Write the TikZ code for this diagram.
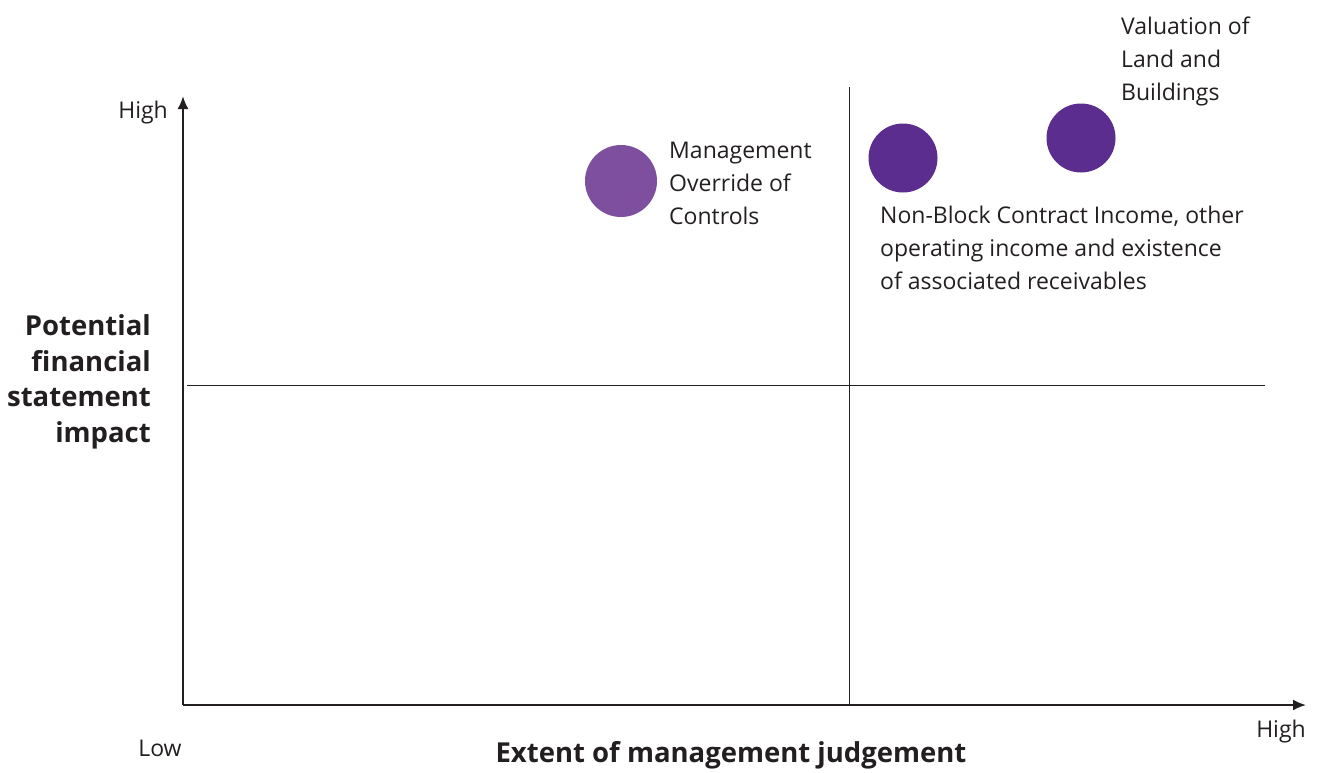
\documentclass[tikz,border=0pt]{standalone}
\usepackage{fontspec}
\setmainfont{Open Sans}
\usetikzlibrary{arrows.meta}

\definecolor{riskdark}{HTML}{5B2D8E}
\definecolor{risklight}{HTML}{7D4F9E}
\definecolor{inkgrey}{HTML}{231F20}

\tikzset{
    axis/.style={line width=2pt, draw=inkgrey, -{Latex[length=13pt, width=11pt]}},
    divider/.style={line width=0.8pt, draw=inkgrey},
    risk/.style={circle, minimum size=#1, inner sep=0pt},
    risklabel/.style={align=left, anchor=north west, inner sep=0pt, text=inkgrey,
        font=\fontsize{23}{33}\selectfont},
    ticklabel/.style={inner sep=0pt, text=inkgrey, font=\fontsize{23}{27}\selectfont},
    axistitle/.style={inner sep=0pt, text=inkgrey, font=\fontsize{27.5}{35.5}\selectfont\bfseries}
}

\begin{document}
\begin{tikzpicture}[x=1pt, y=-1pt]
    \useasboundingbox (0,0) rectangle (1319,772);

    % Axes
    \coordinate (origin) at (183,705);
    \coordinate (ytip) at (183,96);
    \coordinate (xtip) at (1306,705);
    \draw[axis] (origin) -- (ytip);
    \draw[axis] (origin) -- (xtip);

    % Quadrant dividers
    \coordinate (vtop) at (849,87);
    \coordinate (vbot) at (849,705);
    \coordinate (hleft) at (187,385);
    \coordinate (hright) at (1265,385);
    \draw[divider] (vtop) -- (vbot);
    \draw[divider] (hleft) -- (hright);

    % Axis labels
    \node[ticklabel, anchor=east] (yhigh) at (168,113) {High};
    \node[ticklabel] (xlow) at (160,748) {Low};
    \node[ticklabel] (xhigh) at (1281,732) {High};
    \node[axistitle] (xtitle) at (731,755) {Extent of management judgement};
    \node[axistitle, align=right, anchor=east] (ytitle) at (151,382)
        {Potential\\financial\\statement\\impact};

    % Risks
    \node[risk=72pt, fill=risklight] (override) at (621,181) {};
    \node[risk=69pt, fill=riskdark] (income) at (903,158) {};
    \node[risk=69pt, fill=riskdark] (valuation) at (1081,138) {};

    \node[risklabel] (overridetxt) at (669,142) {Management\\Override of\\Controls};
    \node[risklabel] (incometxt) at (880,206) {Non-Block Contract Income, other\\operating income and existence\\of associated receivables};
    \node[risklabel] (valuationtxt) at (1121,17) {Valuation of\\Land and\\Buildings};

\end{tikzpicture}
\end{document}
